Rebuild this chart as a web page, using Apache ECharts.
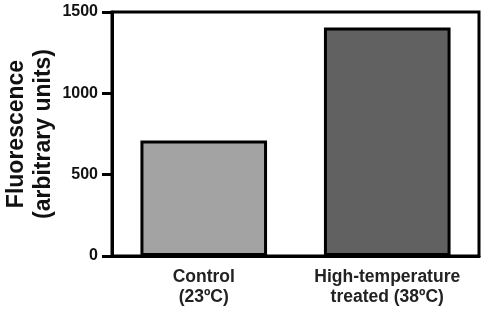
<!DOCTYPE html>
<html>
<head>
<meta charset="utf-8">
<script src="https://cdn.jsdelivr.net/npm/echarts@6/dist/echarts.min.js"></script>
<style>
  html, body { margin: 0; padding: 0; background: #fff; }
  #chart { width: 487px; height: 312px; }
</style>
</head>
<body>
<div id="chart"></div>
<script>
// data
var categories = ['Control\n(23ºC)', 'High-temperature\ntreated (38ºC)'];
var fluorescence = [710, 1405];
var barColors = ['#a3a3a3', '#616161'];
var yTicks = [0, 500, 1000, 1500];

var font = 'Liberation Sans, Arial, sans-serif';

var chart = echarts.init(document.getElementById('chart'));

chart.setOption({
    animation: false,
    // frame around the plot
    grid: {
        left: 112, right: 8, top: 12, bottom: 56,
        outerBoundsMode: 'none',
        containLabel: false,
        show: true,
        borderColor: '#000',
        borderWidth: 3
    },
    xAxis: {
        type: 'category',
        data: categories,
        axisLine: { lineStyle: { color: '#000', width: 3 } },
        axisTick: { alignWithLabel: true, length: 7, lineStyle: { color: '#000', width: 3 } },
        axisLabel: {
            interval: 0,
            margin: 11,
            color: '#222',
            fontFamily: font,
            fontWeight: 'bold',
            fontSize: 17.5,
            lineHeight: 20
        }
    },
    yAxis: {
        type: 'value',
        min: yTicks[0],
        max: yTicks[yTicks.length - 1],
        interval: 500,
        name: 'Fluorescence\n(arbitrary units)',
        nameLocation: 'middle',
        nameGap: 55,
        nameMoveOverlap: false,
        nameTextStyle: {
            color: '#111',
            fontFamily: font,
            fontWeight: 'bold',
            fontSize: 23,
            lineHeight: 27
        },
        splitLine: { show: false },
        axisLine: { show: true, lineStyle: { color: '#000', width: 3 } },
        axisTick: { show: true, length: 10, lineStyle: { color: '#000', width: 3 } },
        axisLabel: {
            margin: 14,
            color: '#111',
            fontFamily: font,
            fontWeight: 'bold',
            fontSize: 16,
            formatter: function (v) { return String(v); }
        }
    },
    series: [{
        type: 'bar',
        barWidth: '69%',
        data: fluorescence.map(function (v, i) {
            return { value: v, itemStyle: { color: barColors[i] } };
        }),
        itemStyle: { borderColor: '#000', borderWidth: 3 }
    }]
});
</script>
</body>
</html>
